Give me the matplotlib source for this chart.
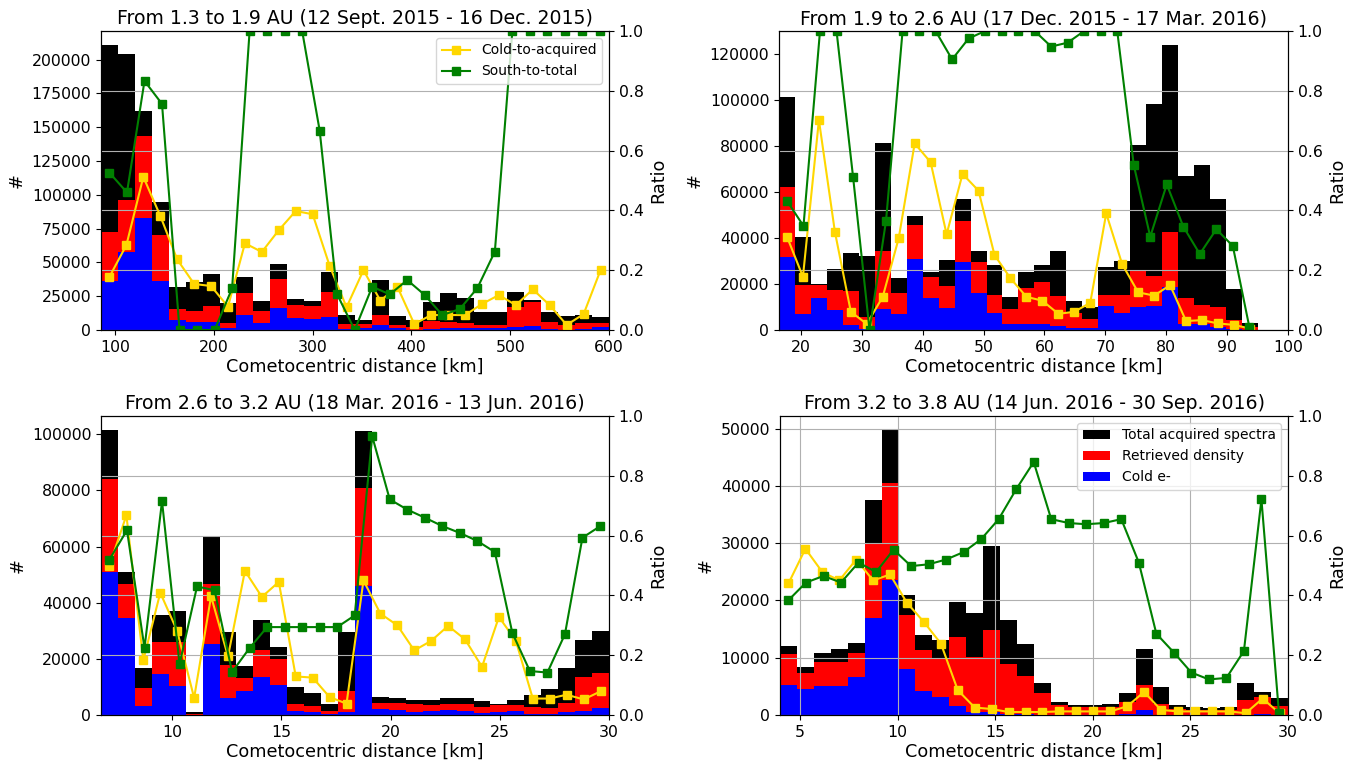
import numpy as np
import matplotlib
matplotlib.use('Agg')
import matplotlib.pyplot as plt
from matplotlib.ticker import MultipleLocator

nan = np.nan

# ---------------- data (counts in thousands) ----------------
titles = ["From 1.3 to 1.9 AU (12 Sept. 2015 - 16 Dec. 2015)",
          "From 1.9 to 2.6 AU (17 Dec. 2015 - 17 Mar. 2016)",
          "From 2.6 to 3.2 AU (18 Mar. 2016 - 13 Jun. 2016)",
          "From 3.2 to 3.8 AU (14 Jun. 2016 - 30 Sep. 2016)"]

# bin range (km) of each panel: 30 bins between lo and hi
bin_lo = [85.8, 16.4, 6.74, 3.98]
bin_hi = [600.0, 95.05, 30.0, 30.0]
x_max = [600, 100, 30, 30]

total1 = [210.6, 204.4, 161.7, 94.3, 31.6, 35.3, 41.2, 19.8, 39.0, 21.7, 48.6, 23.0, 21.5, 42.7, 11.1,
          7.4, 37.0, 10.4, 7.4, 21.0, 27.0, 24.0, 13.6, 13.0, 27.9, 22.2, 13.6, 10.4, 11.0, 9.4]
ret1 = [72.8, 95.8, 143.7, 69.9, 15.3, 14.0, 17.8, 5.4, 27.7, 14.1, 37.5, 18.5, 18.0, 28.4, 4.2,
        4.4, 11.0, 3.7, 2.2, 6.7, 6.0, 5.5, 3.7, 3.5, 16.8, 21.0, 6.0, 3.7, 5.4, 5.4]
cold1 = [36.5, 58.0, 83.2, 36.5, 7.4, 6.2, 5.7, 1.5, 11.1, 5.4, 16.0, 8.6, 8.3, 9.4, 0.85,
         1.5, 3.6, 1.5, 0.15, 1.0, 1.3, 1.2, 1.2, 1.5, 2.3, 3.0, 1.1, 0.2, 0.6, 1.9]
cold_ratio1 = [0.178, 0.284, 0.512, 0.382, 0.236, 0.154, 0.147, 0.078, 0.29, 0.261, 0.334, 0.398, 0.387,
               0.215, 0.076, 0.2, 0.098, 0.145, 0.02, 0.05, 0.05, 0.05, 0.087, 0.117, 0.083, 0.136,
               0.083, 0.017, 0.053, 0.2]
south_ratio1 = [0.526, 0.46, 0.833, 0.756, 0.0, 0.0, 0.0, 0.139, 1.0, 1.0, 1.0, 1.0, 0.667, 0.119, 0.0,
                0.145, 0.119, 0.167, 0.117, 0.05, 0.07, 0.14, 0.262, 1.0, 1.0, 1.0, 1.0, 1.0, 1.0, nan]

total2 = [101.4, 40.7, 20.0, 26.5, 33.5, 32.4, 81.5, 22.8, 49.5, 25.2, 30.5, 57.0, 34.5, 28.4, 14.5,
          25.4, 28.4, 34.2, 12.8, 9.9, 27.4, 30.2, 80.7, 98.2, 124.0, 66.9, 72.0, 57.2, 17.9, 2.9]
ret2 = [62.2, 19.6, 19.5, 17.5, 17.0, 5.8, 34.5, 16.3, 45.8, 23.0, 19.2, 47.3, 29.8, 15.3, 9.0,
        18.2, 21.1, 15.0, 7.6, 4.9, 15.3, 15.3, 26.2, 23.3, 42.6, 14.1, 10.9, 10.2, 4.4, 1.5]
cold2 = [31.6, 7.0, 14.1, 8.7, 2.2, 0.5, 9.0, 7.0, 30.8, 13.8, 9.5, 29.8, 16.0, 7.3, 2.5,
         2.8, 2.8, 1.8, 0.8, 0.9, 10.5, 7.3, 10.2, 10.5, 18.9, 2.5, 2.4, 1.3, 0.3, 0.02]
cold_ratio2 = [0.312, 0.178, 0.702, 0.329, 0.061, 0.02, 0.111, 0.307, 0.624, 0.561, 0.32, 0.522, 0.466,
               0.251, 0.173, 0.111, 0.098, 0.054, 0.061, 0.091, 0.39, 0.22, 0.126, 0.115, 0.15, 0.03,
               0.033, 0.022, 0.017, 0.005]
south_ratio2 = [0.432, 0.348, 1.0, 1.0, 0.513, 0.0, 0.366, 1.0, 1.0, 1.0, 0.905, 0.975, 1.0, 1.0, 1.0,
                1.0, 0.948, 0.961, 1.0, 1.0, 1.0, 0.552, 0.312, 0.487, 0.346, 0.254, 0.337, 0.281,
                0.01, nan]

total3 = [101.4, 51.0, 16.9, 35.6, 37.1, 1.0, 63.6, 29.4, 17.5, 33.8, 24.3, 9.8, 8.0, 3.8, 29.6,
          101.0, 6.4, 5.9, 5.5, 5.2, 5.9, 6.2, 4.9, 3.8, 5.5, 7.0, 9.4, 16.6, 26.7, 30.0]
ret3 = [84.0, 46.7, 9.6, 26.1, 26.0, 0.5, 46.7, 17.8, 13.0, 23.1, 19.8, 3.8, 3.3, 1.3, 8.6,
        81.0, 4.3, 4.1, 3.8, 3.7, 3.8, 3.8, 2.9, 3.4, 3.4, 2.9, 2.6, 4.1, 13.6, 14.8]
cold3 = [51.0, 34.4, 3.2, 14.5, 10.2, 0.05, 25.2, 6.2, 8.6, 13.4, 10.8, 1.3, 1.0, 0.25, 1.1,
         46.0, 2.2, 1.8, 1.2, 1.3, 1.8, 1.6, 0.8, 1.2, 1.4, 0.4, 0.5, 1.1, 1.4, 2.4]
cold_ratio3 = [0.5, 0.668, 0.183, 0.409, 0.281, 0.057, 0.397, 0.196, 0.482, 0.395, 0.445, 0.129, 0.125,
               0.06, 0.038, 0.45, 0.339, 0.3, 0.216, 0.248, 0.298, 0.253, 0.161, 0.328, 0.248, 0.055,
               0.055, 0.068, 0.052, 0.079]
south_ratio3 = [0.52, 0.618, 0.224, 0.715, 0.17, 0.43, 0.417, 0.144, 0.224, 0.294, 0.294, 0.294, 0.294,
                0.294, 0.333, 0.932, 0.721, 0.687, 0.66, 0.632, 0.609, 0.582, 0.545, 0.274, 0.147,
                0.142, 0.27, 0.593, 0.631, nan]

total4 = [12.1, 8.3, 10.9, 11.5, 12.6, 37.5, 49.7, 21.0, 13.9, 13.1, 19.8, 17.8, 29.5, 16.5, 12.4,
          5.6, 2.2, 1.8, 1.8, 1.9, 3.9, 11.5, 4.9, 1.7, 1.4, 1.3, 1.4, 5.6, 4.0, 2.9]
ret4 = [10.6, 7.4, 9.3, 9.3, 10.9, 29.8, 40.5, 17.5, 11.4, 9.7, 13.7, 10.2, 14.9, 8.9, 6.8,
        3.9, 1.7, 1.4, 1.4, 1.4, 2.3, 5.2, 2.0, 1.0, 0.8, 0.8, 0.8, 2.6, 3.2, 1.5]
cold4 = [5.2, 4.6, 5.1, 5.1, 6.6, 17.0, 23.5, 8.0, 4.2, 3.2, 1.5, 0.45, 0.6, 0.15, 0.12,
         0.05, 0.03, 0.02, 0.02, 0.02, 0.1, 0.9, 0.08, 0.02, 0.02, 0.02, 0.02, 0.02, 0.2, 0.02]
cold_ratio4 = [0.44, 0.556, 0.478, 0.45, 0.52, 0.45, 0.47, 0.375, 0.311, 0.239, 0.083, 0.025, 0.02,
               0.01, 0.01, 0.01, 0.012, 0.012, 0.012, 0.012, 0.029, 0.077, 0.017, 0.012, 0.012,
               0.012, 0.012, 0.006, 0.055, 0.006]
south_ratio4 = [0.384, 0.443, 0.465, 0.443, 0.51, 0.478, 0.553, 0.498, 0.504, 0.52, 0.545, 0.588,
                0.655, 0.755, 0.846, 0.655, 0.642, 0.638, 0.642, 0.655, 0.51, 0.272, 0.209, 0.142,
                0.119, 0.124, 0.214, 0.721, 0.007, nan]

totals = [total1, total2, total3, total4]
rets = [ret1, ret2, ret3, ret4]
colds = [cold1, cold2, cold3, cold4]
cold_ratios = [cold_ratio1, cold_ratio2, cold_ratio3, cold_ratio4]
south_ratios = [south_ratio1, south_ratio2, south_ratio3, south_ratio4]

y_steps = [25000, 20000, 20000, 10000]
x_steps = [100, 10, 5, 5]

# ---------------- figure ----------------
W, H = 1368, 767
fig = plt.figure(figsize=(W / 100, H / 100), dpi=100)

def rect(l, r, t, b):
    return [l / W, 1 - b / H, (r - l) / W, (b - t) / H]

rects = [rect(101, 609, 31, 330), rect(779, 1288, 31, 330),
         rect(101, 609, 416, 715), rect(780, 1288, 416, 715)]

TICK = 11.3
LAB = 12.7
YEL = '#FFD700'
GRN = '#008000'

for i in range(4):
    ax = fig.add_axes(rects[i])
    lo, hi = bin_lo[i], bin_hi[i]
    edges = np.linspace(lo, hi, 31)
    w = edges[1] - edges[0]
    centers = edges[:-1] + w / 2
    xs_south = np.linspace(lo, hi, 30) + w / 2

    t = np.array(totals[i]) * 1000
    r = np.array(rets[i]) * 1000
    c = np.array(colds[i]) * 1000
    hb1 = ax.bar(edges[:-1], t, width=w, align='edge', color='black', label='Total acquired spectra')
    hb2 = ax.bar(edges[:-1], r, width=w, align='edge', color='#FF0000', label='Retrieved density')
    hb3 = ax.bar(edges[:-1], c, width=w, align='edge', color='#0000FF', label='Cold e-')
    ax.set_xlim(lo, x_max[i])
    ax.yaxis.set_major_locator(MultipleLocator(y_steps[i]))
    ax.xaxis.set_major_locator(MultipleLocator(x_steps[i]))
    ax.tick_params(labelsize=TICK)
    ax.set_ylabel('#', fontsize=LAB)
    ax.set_xlabel('Cometocentric distance [km]', fontsize=LAB, labelpad=2)
    ax.set_title(titles[i], fontsize=13.6, pad=5)

    ax2 = ax.twinx()
    l1, = ax2.plot(centers, cold_ratios[i], color=YEL, marker='s', ms=5.5, lw=1.5,
                   label='Cold-to-acquired')
    l2, = ax2.plot(xs_south, south_ratios[i], color=GRN, marker='s', ms=5.5, lw=1.5,
                   label='South-to-total')
    ax2.set_ylim(0, 1)
    ax2.yaxis.set_major_locator(MultipleLocator(0.2))
    ax2.tick_params(labelsize=TICK)
    ax2.set_ylabel('Ratio', fontsize=LAB)
    ax2.set_xlim(lo, x_max[i])

    if i == 3:
        ax.set_axisbelow(False)
        ax.grid(True, color='#b0b0b0', lw=0.8)
        ax2.legend([hb1, hb2, hb3], ['Total acquired spectra', 'Retrieved density', 'Cold e-'],
                   loc='upper right', fontsize=10)
    else:
        ax2.grid(True, axis='y', color='#b0b0b0', lw=0.8)
    if i == 0:
        ax2.legend([l1, l2], ['Cold-to-acquired', 'South-to-total'], loc='upper right', fontsize=10)

fig.savefig('out.png', dpi=100)
